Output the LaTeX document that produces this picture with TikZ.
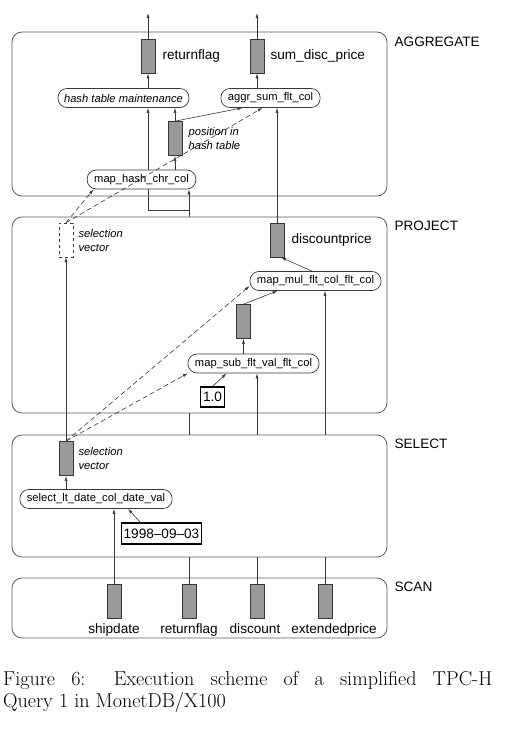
\documentclass[tikz,border=0pt]{standalone}
\usepackage{fontspec}
\newfontfamily\diagfont{Liberation Sans}
\usepackage{tikz}
\usetikzlibrary{arrows.meta,positioning,backgrounds}
\definecolor{mycolgray}{RGB}{153,153,153}
\definecolor{myline}{RGB}{55,55,55}
\definecolor{mybox}{RGB}{90,90,90}
\tikzstyle{layer}=[draw=mybox,rounded corners=10pt,minimum width=375pt,line width=0.8pt]
\tikzstyle{layername}=[anchor=west,font=\diagfont\fontsize{13.6}{15}\selectfont,inner sep=0pt]
\tikzstyle{column}=[draw=myline,fill=mycolgray,minimum width=14pt,minimum height=34pt,inner sep=0pt,line width=0.7pt]
\tikzstyle{dashcolumn}=[draw=myline,dashed,minimum width=14pt,minimum height=34pt,inner sep=0pt,line width=0.7pt]
\tikzstyle{operator}=[draw=myline,fill=white,rounded corners=9pt,minimum height=19pt,inner xsep=7pt,inner ysep=0pt,line width=0.7pt,font=\diagfont\fontsize{11.2}{13}\selectfont]
\tikzstyle{constant}=[draw=black,line width=1.1pt,inner xsep=2.5pt,inner ysep=0pt,font=\diagfont\fontsize{13.6}{15}\selectfont]
\tikzstyle{colname}=[font=\diagfont\fontsize{13.6}{15}\selectfont,inner sep=0pt]
\tikzstyle{note}=[font=\diagfont\itshape\fontsize{11.2}{14}\selectfont,inner sep=0pt,align=left,anchor=west]
\tikzstyle{flow}=[-{Latex[length=5pt,width=3pt]},myline,line width=0.6pt]
\tikzstyle{selflow}=[flow,dash pattern=on 5pt off 3pt]
\tikzstyle{link}=[myline,line width=0.6pt]

\begin{document}
\begin{tikzpicture}[x=1pt,y=-1pt]
\useasboundingbox (0,0) rectangle (512,729);
% the four operator layers
\draw (199.5, 114) node [layer, minimum height=164pt] (agg) {};
\draw (199.5, 315) node [layer, minimum height=196pt] (proj) {};
\draw (199.5, 496) node [layer, minimum height=122pt] (sel) {};
\draw (199.5, 608) node [layer, minimum height=60pt] (scan) {};
\node [layername] at ([xshift=7pt,yshift=-10pt]agg.north east) {AGGREGATE};
\node [layername] at ([xshift=7pt,yshift=-9pt]proj.north east) {PROJECT};
\node [layername] at ([xshift=7pt,yshift=-9pt]sel.north east) {SELECT};
\node [layername] at ([xshift=7pt,yshift=-9pt]scan.north east) {SCAN};

% AGGREGATE
\draw (148, 56) node [column] (rf) {};
\draw (257, 56) node [column] (sdp) {};
\node [colname, right=7pt of rf] {returnflag};
\node [colname, right=6pt of sdp] {sum\_disc\_price};
\draw (123.5, 98) node [operator, inner xsep=6pt, font=\diagfont\itshape\fontsize{11.2}{13}\selectfont] (htm) {hash table maintenance};
\draw (270.5, 98) node [operator] (aggr) {aggr\_sum\_flt\_col};
\draw (175, 138.5) node [column] (pos) {};
\node [note, right=6pt of pos] {position in\\hash table};
\draw (141.5, 179.5) node [operator] (mhash) {map\_hash\_chr\_col};
\coordinate (out1) at (148, 13);
\coordinate (out2) at (257, 13);
\coordinate (j1) at (148, 210);
\coordinate (j2) at (189, 210);

% PROJECT
\draw (66, 240) node [dashcolumn] (sv1) {};
\node [note, right=5pt of sv1] {selection\\vector};
\draw (277, 240) node [column] (dp) {};
\node [colname, right=7pt of dp] {discountprice};
\draw (315.5, 281) node [operator] (mmul) {map\_mul\_flt\_col\_flt\_col};
\draw (243.5, 321.5) node [column] (tmp) {};
\draw (253.5, 363.5) node [operator] (msub) {map\_sub\_flt\_val\_flt\_col};
\draw (212.5, 397) node [constant, minimum height=20pt] (one) {1.0};

% SELECT
\draw (66, 458.5) node [column] (sv2) {};
\node [note, right=5pt of sv2] {selection\\vector};
\draw (96, 499) node [operator] (slt) {select\_lt\_date\_col\_date\_val};
\draw (161.5, 533.5) node [constant, minimum height=21pt] (date) {1998–09–03};

% SCAN
\draw (114, 601) node [column] (sd) {};
\draw (189, 601) node [column] (rf0) {};
\draw (257, 601) node [column] (disc) {};
\draw (325, 601) node [column] (ep) {};
\node [colname, below=5pt of sd] {shipdate};
\node [colname, below=5pt of rf0] {returnflag};
\node [colname, below=5pt of disc, xshift=-2pt] {discount};
\node [colname, below=5pt of ep, xshift=9pt] {extendedprice};

% connectors
\draw[flow] (rf) -- (out1);
\draw[flow] (sdp) -- (out2);
\draw[flow] (rf.south |- htm.north) -- (rf.south);
\draw[flow] (sdp.south |- aggr.north) -- (sdp.south);
\draw[flow] (pos.north) -- (pos.north |- htm.south);
\draw[flow] (pos.north) -- ([xshift=-28pt]aggr.south);
\draw[flow] (pos.south |- mhash.north) -- (pos.south);
\begin{pgfonlayer}{background}
\draw[link] (rf0.north |- proj.north) -- (j2) -- (j1);
\draw[flow] (j1) -- (j1 |- htm.south);
\end{pgfonlayer}
\draw[flow] (j2) -- (j2 |- mhash.south);
\draw[flow] (dp.north) -- (dp.north |- aggr.south);
\draw[selflow] (sv1.north) -- ([xshift=-48pt]mhash.south);
\draw[selflow] (sv1.north) -- ([xshift=-8pt]aggr.south);

\draw[flow] ([xshift=-3.5pt]mmul.north) -- ([xshift=4pt]dp.south);
\draw[flow] (tmp.north) -- ([xshift=-38pt]mmul.south);
\draw[flow] (tmp.south |- msub.north) -- (tmp.south);
\draw[flow] (one.north) -- ([xshift=-27pt]msub.south);
\draw[flow] (disc.north |- proj.south) -- (disc.north |- msub.south);
\draw[flow] (ep.north |- proj.south) -- (ep.north |- mmul.south);
\draw[flow] (sv2.north) -- (sv1.south);
\draw[selflow] (sv2.north) -- (msub.south west);
\draw[selflow] (sv2.north) -- ([yshift=-5pt]mmul.west);

\draw[flow] (sv2.south |- slt.north) -- (sv2.south);
\draw[flow] ([xshift=-21pt]date.north) -- ([xshift=32pt]slt.south);
\draw[flow] (sd.north) -- (sd.north |- slt.south);
\foreach \c in {rf0, disc, ep} {
  \draw[link] (\c.north) -- (\c.north |- sel.south);
  \draw[link] (\c.north |- sel.north) -- (\c.north |- proj.south);
}

% caption
\node [anchor=north west, text width=489pt, align=justify, inner sep=0pt, font=\fontsize{20.1}{22}\selectfont] (cap) at (3, 671) {Figure 6: Execution scheme of a simplified TPC-H\linebreak Query 1 in MonetDB/X100};
\end{tikzpicture}
\end{document}
